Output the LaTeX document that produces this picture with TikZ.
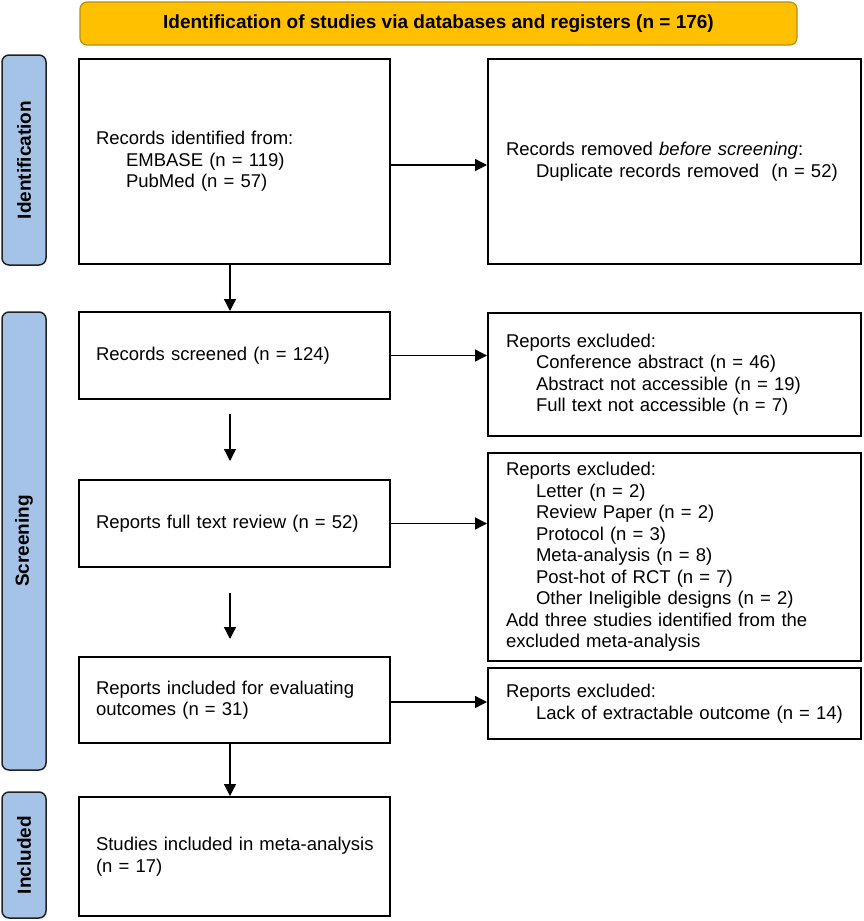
\documentclass[tikz,border=0pt]{standalone}
\usepackage{fontspec}
\setmainfont{Liberation Sans}
\usetikzlibrary{arrows.meta}
\definecolor{gold}{HTML}{FFC000}
\definecolor{goldline}{HTML}{B8900A}
\definecolor{sideblue}{HTML}{A4C3E6}
\definecolor{sideline}{HTML}{222222}
\begin{document}
\begin{tikzpicture}[x=1pt,y=-1pt,
  box/.style={draw=black, line width=2pt, fill=white, align=left, inner ysep=0pt,
    font=\fontsize{18.5}{21.5}\selectfont, anchor=north west},
  lbox/.style={box, inner xsep=17pt, text width=277pt, minimum width=311pt},
  rbox/.style={box, inner xsep=18pt, text width=337pt, minimum width=373pt},
  side/.style={draw=sideline, line width=1.5pt, fill=sideblue, rounded corners=7pt,
    rotate=90, minimum height=44pt, inner sep=0pt, font=\bfseries\fontsize{19}{22}\selectfont},
  banner/.style={draw=goldline, line width=1.2pt, fill=gold, rounded corners=7pt,
    minimum width=717pt, minimum height=43pt, inner sep=0pt, font=\bfseries\fontsize{19}{22}\selectfont},
  arr/.style={line width=1.3pt, -{Triangle[length=12pt,width=12pt]}}
]
\useasboundingbox (0,0) rectangle (863,921);

\node[banner] (top) at (438.5,23.5) {Identification of studies via databases and registers (n = 176)};

\node[side, minimum width=210pt] (sid) at (24,160) {Identification};
\node[side, minimum width=458pt] (sscr) at (24,541) {Screening};
\node[side, minimum width=126pt] (sinc) at (24,855) {Included};

\node[lbox, minimum height=205pt] (b1) at (78,58) {Records identified from:\\\hspace*{30pt}EMBASE (n = 119)\\\hspace*{30pt}PubMed (n = 57)};
\node[lbox, minimum height=87pt] (b2) at (78,311) {Records screened (n = 124)};
\node[lbox, minimum height=87pt] (b3) at (78,479) {Reports full text review (n = 52)};
\node[lbox, minimum height=86pt] (b4) at (78,656) {Reports included for evaluating\\outcomes (n = 31)};
\node[lbox, minimum height=119pt] (b5) at (78,796) {\mbox{Studies included in meta-analysis}\\(n = 17)};

\node[rbox, minimum height=205pt] (r1) at (487,58) {Records removed \textit{before screening}:\\\hspace*{30pt}Duplicate records removed\ \ (n = 52)};
\node[rbox, minimum height=123pt] (r2) at (487,312) {Reports excluded:\\\hspace*{30pt}Conference abstract (n = 46)\\\hspace*{30pt}Abstract not accessible (n = 19)\\\hspace*{30pt}Full text not accessible (n = 7)};
\node[rbox, minimum height=208pt] (r3) at (487,452) {Reports excluded:\\\hspace*{30pt}Letter (n = 2)\\\hspace*{30pt}Review Paper (n = 2)\\\hspace*{30pt}Protocol (n = 3)\\\hspace*{30pt}Meta-analysis (n = 8)\\\hspace*{30pt}Post-hot of RCT (n = 7)\\\hspace*{30pt}Other Ineligible designs (n = 2)\\Add three studies identified from the\\excluded meta-analysis};
\node[rbox, minimum height=71pt] (r4) at (487,667) {Reports excluded:\\\hspace*{30pt}Lack of extractable outcome (n = 14)};

\coordinate (a2s) at (230,414);
\coordinate (a2e) at (230,461);
\coordinate (a3s) at (230,593);
\coordinate (a3e) at (230,639);

\draw[arr] (b1.south -| a2s) -- (b2.north -| a2s);
\draw[arr] (a2s) -- (a2e);
\draw[arr] (a3s) -- (a3e);
\draw[arr] (b4.south -| a2s) -- (b5.north -| a2s);

\draw[arr] (b1.east) ++(0,3.5) coordinate (h1) -- (h1 -| r1.west);
\draw[arr] (b2.east) -- (b2.east -| r2.west);
\draw[arr] (b3.east) -- (b3.east -| r3.west);
\draw[arr] ([yshift=-2pt]b4.east) -- ([yshift=-2pt]b4.east -| r4.west);
\end{tikzpicture}
\end{document}
